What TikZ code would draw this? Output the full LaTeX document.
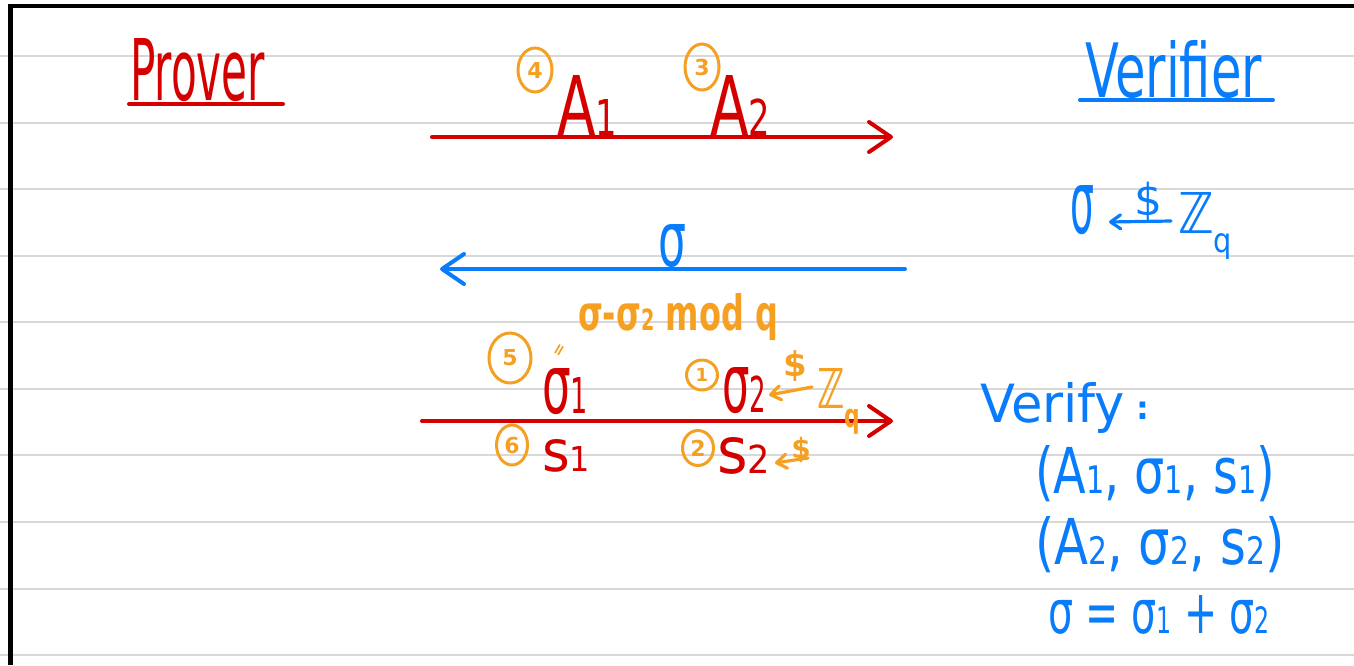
\documentclass[tikz,border=0pt]{standalone}
\usepackage{fontspec}
\usepackage{graphicx}
\setmainfont{DejaVu Sans}
\usetikzlibrary{arrows.meta,shapes.geometric,calc}
\definecolor{hred}{RGB}{212,0,0}
\definecolor{hblue}{RGB}{8,124,250}
\definecolor{horange}{RGB}{245,160,35}
\definecolor{rule}{RGB}{216,216,216}
\newcommand{\sbx}[1]{\scalebox{0.6}{#1}}
\newcommand{\fitb}[3]{\resizebox{#1pt}{#2pt}{#3}}
\newcommand{\nodp}[1]{\raisebox{0pt}[\height][0pt]{#1}}
\begin{document}
\begin{tikzpicture}[x=0.5pt,y=-0.5pt,
  txt/.style={inner sep=0pt,outer sep=0pt,anchor=base west},
  redtxt/.style={txt,text=hred},
  bluetxt/.style={txt,text=hblue},
  orangetxt/.style={txt,text=horange},
  bigarrow/.style={line width=2pt,line cap=round,-{Straight Barb[length=11pt,width=15pt,line width=2pt,round]}},
  smallarrow/.style={line width=1.6pt,line cap=round,-{Straight Barb[length=5pt,width=7pt,line width=1.6pt,round]}},
  num/.style={ellipse,draw=horange,line width=1.5pt,inner sep=0pt,text=horange,font=\fontsize{11pt}{11pt}\selectfont\bfseries},
  ruleline/.style={draw=rule,line width=1pt}
]
\useasboundingbox (0,0) rectangle (1354,665);
% ruled paper
\foreach \yy in {56,123,189,256,322,389,455,522,589,655}
  \draw[ruleline] (0,\yy) -- (1354,\yy);
\draw[black,line width=2.2pt] (10.5,665) -- (10.5,6) -- (1354,6);

% headings
\node[redtxt] (prover) at (130,100) {\fitb{67.5}{31}{Prover}};
\draw[hred,line width=2pt,line cap=round] (prover.base west) ++(-1,4) coordinate (pu1) -- ++(154,0) coordinate (pu2);
\node[bluetxt] (verifier) at (1085,97) {\fitb{88.5}{28.5}{Verifier}};
\draw[hblue,line width=2pt,line cap=round] (verifier.base west) ++(-5,3) coordinate (vu1) -- ++(193,0) coordinate (vu2);

% first message
\coordinate (m1s) at (432,137);
\coordinate (m1e) at (893,137);
\draw[hred,bigarrow] (m1s) -- (m1e);
\node[redtxt] (A1) at (557,135) {\fitb{30}{30}{A\sbx{1}}};
\node[redtxt] (A2) at (710,135) {\fitb{30}{30}{A\sbx{2}}};
\node[num,minimum width=17pt,minimum height=22pt] (n4) at (535,70) {4};
\node[num,minimum width=17pt,minimum height=23pt] (n3) at (702,67) {3};

% challenge
\node[bluetxt] (sigv) at (1070,233) {\fitb{12}{24}{σ}};
\node[bluetxt] (zqv) at (1178,233) {\fitb{27}{20.5}{ℤ\raisebox{-0.35em}{\sbx{q}}}};
\path (zqv.base west) ++(-7,-12) coordinate (va1);
\path (sigv.base east) ++(15,-11) coordinate (va2);
\draw[hblue,smallarrow] (va1) -- (va2);
\node[text=hblue,inner sep=0pt,font=\fontsize{22pt}{22pt}\selectfont] (dolv) at (1148,202) {\$};

\coordinate (m2s) at (905,269);
\coordinate (m2e) at (440,269);
\draw[hblue,bigarrow] (m2s) -- (m2e);
\node[bluetxt] (sigm) at (658,266) {\fitb{14}{21}{σ}};

% response
\coordinate (m3s) at (422,421);
\coordinate (m3e) at (893,421);
\draw[hred,bigarrow] (m3s) -- (m3e);
\node[orangetxt] (sig1expr) at (578,330) {\fitb{100}{18.5}{\bfseries\nodp{σ-σ\sbx{2} mod q}}};
\node[text=horange,inner sep=0pt,rotate=60,font=\fontsize{8pt}{8pt}\selectfont\bfseries] (eqs) at (561,351) {=};
\node[num,minimum width=21pt,minimum height=25pt] (n5) at (510,358) {5};
\node[redtxt] (sig1) at (542,413) {\fitb{23}{22.5}{\nodp{σ\sbx{1}}}};
\node[num,minimum width=15.5pt,minimum height=15pt,font=\fontsize{9pt}{9pt}\selectfont\bfseries] (n1) at (702,375) {1};
\node[redtxt] (sig2) at (722,412) {\fitb{22}{22.5}{\nodp{σ\sbx{2}}}};
\node[orangetxt] (zqo) at (817,408) {\fitb{21.5}{20}{\bfseries ℤ\raisebox{-0.35em}{\sbx{q}}}};
\path (zqo.base west) ++(-5,-21) coordinate (oa1);
\path (sig2.base east) ++(3,-17) coordinate (oa2);
\draw[horange,smallarrow] (oa1) -- (oa2);
\node[text=horange,inner sep=0pt,font=\fontsize{17pt}{17pt}\selectfont\bfseries] (dol1) at (795,366) {\$};

\node[num,minimum width=15.5pt,minimum height=20pt] (n6) at (512,445) {6};
\node[redtxt] (s1) at (542,471) {\fitb{24}{16}{s\sbx{1}}};
\node[num,minimum width=15.5pt,minimum height=17.5pt] (n2) at (698,448) {2};
\node[redtxt] (s2) at (717,473) {\fitb{26.5}{18}{s\sbx{2}}};
\path (s2.base east) ++(38,-15) coordinate (ob1);
\path (s2.base east) ++(5,-10) coordinate (ob2);
\draw[horange,smallarrow] (ob1) -- (ob2);
\node[text=horange,inner sep=0pt,font=\fontsize{14pt}{14pt}\selectfont\bfseries] (dol2) at (801,450) {\$};

% verification
\node[bluetxt] (verify) at (980,422) {\fitb{72.5}{20}{Verify}};
\node[text=hblue,inner sep=0pt,font=\fontsize{16pt}{16pt}\selectfont\bfseries] (colon) at (1143,411) {:};
\node[bluetxt] (t1) at (1035,493) {\fitb{120}{24}{(A\sbx{1}, σ\sbx{1}, s\sbx{1})}};
\node[bluetxt] (t2) at (1035,564) {\fitb{125}{24}{(A\sbx{2}, σ\sbx{2}, s\sbx{2})}};
\node[bluetxt] (t3) at (1048,633) {\fitb{111}{19}{σ = σ\sbx{1} + σ\sbx{2}}};
\end{tikzpicture}
\end{document}
